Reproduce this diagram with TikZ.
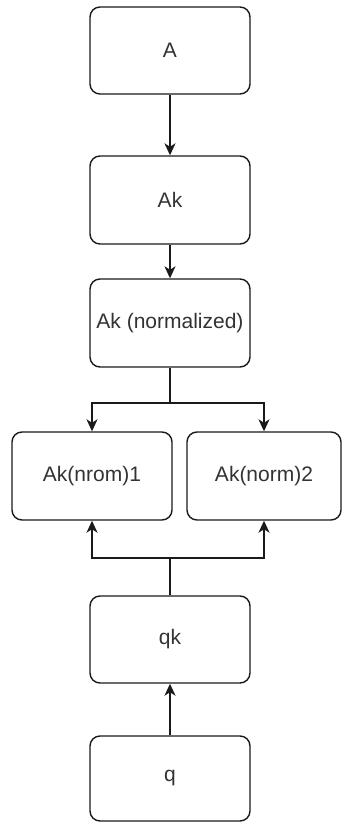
\documentclass[tikz,border=0pt]{standalone}
\usepackage{fontspec}
\setmainfont{Liberation Sans}
\usetikzlibrary{arrows.meta}
\definecolor{boxline}{HTML}{1A1A1A}
\definecolor{labeltext}{HTML}{333333}
\tikzset{
  box/.style={draw=boxline, line width=1.4pt, rounded corners=10pt, fill=white,
    inner sep=0pt, text=labeltext, font=\fontsize{21}{25}\selectfont},
  link/.style={draw=boxline, line width=1.4pt,
    -{Stealth[length=12pt, width=11pt, inset=3.5pt]}},
  plainlink/.style={draw=boxline, line width=1.4pt}
}
\begin{document}
\begin{tikzpicture}[x=1pt, y=-1pt]
  \useasboundingbox (0,0) rectangle (342,822);

  % boxes
  \node[box, minimum width=160pt, minimum height=87pt] (a)   at (170,50.5)  {A};
  \node[box, minimum width=160pt, minimum height=88pt] (ak)  at (170,200)   {Ak};
  \node[box, minimum width=160pt, minimum height=88pt] (akn) at (170,323)   {Ak (normalized)};
  \node[box, minimum width=160pt, minimum height=88pt] (n1)  at (92,476)    {Ak(nrom)1};
  \node[box, minimum width=154pt, minimum height=88pt] (n2)  at (264,476)   {Ak(norm)2};
  \node[box, minimum width=160pt, minimum height=87pt] (qk)  at (170,639.5) {qk};
  \node[box, minimum width=160pt, minimum height=85pt] (q)   at (170,778.5) {q};

  % branch points
  \coordinate (split) at (170,403);
  \coordinate (merge) at (170,558);

  % connectors
  \draw[link] (a) -- (ak);
  \draw[link] (ak) -- (akn);
  \draw[plainlink] (akn.south) -- (split);
  \draw[link] (split) -| (n1.north);
  \draw[link] (split) -| (n2.north);
  \draw[plainlink] (qk.north) -- (merge);
  \draw[link] (merge) -| (n1.south);
  \draw[link] (merge) -| (n2.south);
  \draw[link] (q) -- (qk);
\end{tikzpicture}
\end{document}
